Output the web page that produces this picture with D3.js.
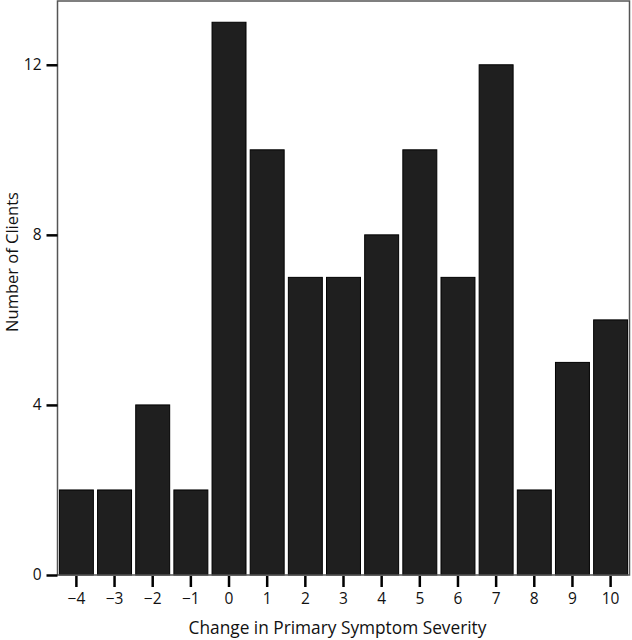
<!DOCTYPE html>
<html>
<head>
<meta charset="utf-8">
<script src="https://cdn.jsdelivr.net/npm/d3@7"></script>
<style>
  body { margin: 0; background: #fff; }
  text { font-family: "Open Sans", sans-serif; fill: #111; }
</style>
</head>
<body>
<div id="chart"></div>
<script>
// Data
const changes = [-4, -3, -2, -1, 0, 1, 2, 3, 4, 5, 6, 7, 8, 9, 10];
const clients = [2, 2, 4, 2, 13, 10, 7, 7, 8, 10, 7, 12, 2, 5, 6];
const yTicks = [0, 4, 8, 12];

const svgWidth = 632;
const svgHeight = 640;

const margin = { top: 1, right: 2.5, bottom: 65, left: 57.5 };
const width = svgWidth - margin.left - margin.right;
const height = svgHeight - margin.top - margin.bottom;

const svg = d3.select("#chart")
  .append("svg")
  .attr("width", svgWidth)
  .attr("height", svgHeight);

const chartGroup = svg.append("g")
  .attr("transform", `translate(${margin.left}, ${margin.top})`);

const xScale = d3.scaleBand()
  .domain(changes)
  .range([0, width])
  .paddingInner(0.11)
  .paddingOuter(0.05);

const yScale = d3.scaleLinear()
  .domain([0, 13.5])
  .range([height, 0]);

const data = changes.map((c, i) => ({ change: c, count: clients[i] }));

// bars
chartGroup.selectAll("rect.bar")
  .data(data)
  .enter()
  .append("rect")
  .attr("class", "bar")
  .attr("x", d => xScale(d.change))
  .attr("y", d => yScale(d.count))
  .attr("width", xScale.bandwidth())
  .attr("height", d => height - yScale(d.count))
  .attr("fill", "#1f1f1f")
  .attr("stroke", "#000")
  .attr("stroke-width", 1);

// frame
chartGroup.append("rect")
  .attr("x", 0)
  .attr("y", 0)
  .attr("width", width)
  .attr("height", height)
  .attr("fill", "none")
  .attr("stroke", "#555")
  .attr("stroke-width", 1.5);

const fmt = d => d3.format("d")(d);

// y axis
const yAxis = chartGroup.append("g")
  .call(d3.axisLeft(yScale).tickValues(yTicks).tickSize(11).tickPadding(5).tickFormat(fmt));
yAxis.select(".domain").remove();
yAxis.selectAll(".tick line").attr("stroke", "#000").attr("stroke-width", 2.5);
yAxis.selectAll(".tick text")
  .attr("font-size", 15.5)
  .attr("font-family", "Open Sans, sans-serif");

// x axis
const xAxis = chartGroup.append("g")
  .attr("transform", `translate(0, ${height + 1})`)
  .call(d3.axisBottom(xScale).tickSize(11).tickPadding(6).tickFormat(fmt));
xAxis.select(".domain").remove();
xAxis.selectAll(".tick line").attr("stroke", "#000").attr("stroke-width", 2.5);
xAxis.selectAll(".tick text")
  .attr("font-size", 15.5)
  .attr("font-family", "Open Sans, sans-serif");

// axis titles
svg.append("text")
  .attr("x", 337.5)
  .attr("y", 634)
  .attr("text-anchor", "middle")
  .attr("font-size", 17.3)
  .text("Change in Primary Symptom Severity");

svg.append("text")
  .attr("transform", "translate(18, 262) rotate(-90)")
  .attr("text-anchor", "middle")
  .attr("font-size", 16.5)
  .text("Number of Clients");
</script>
</body>
</html>
